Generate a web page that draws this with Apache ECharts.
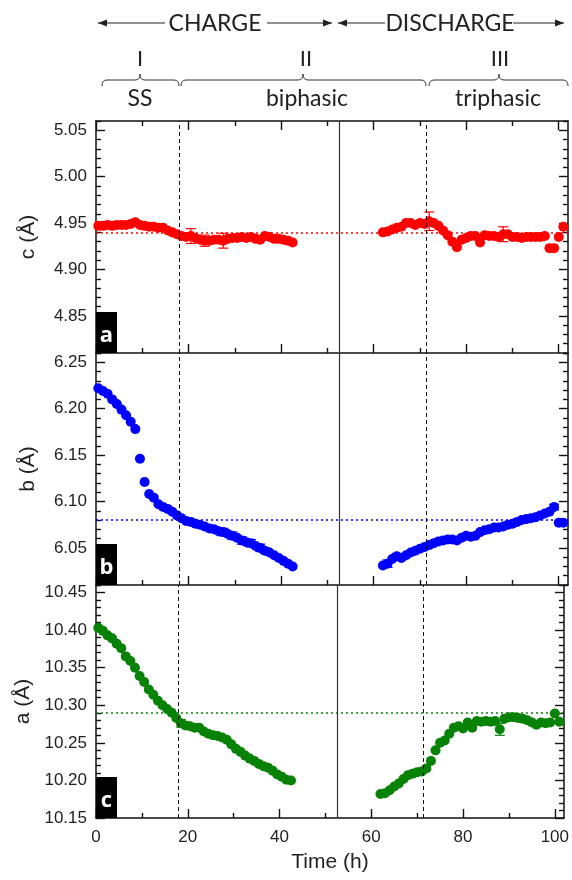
<!DOCTYPE html>
<html>
<head>
<meta charset="utf-8">
<script src="https://cdn.jsdelivr.net/npm/echarts@6/dist/echarts.min.js"></script>
<style>
  html, body { margin: 0; padding: 0; background: #fff; }
  #chart { width: 572px; height: 880px; }
</style>
</head>
<body>
<div id="chart"></div>
<script>
// ---- measurement times (h) ----
const timeCharge = [0.5, 1.5, 2.5, 3.5, 4.5, 5.5, 6.5, 7.5, 8.5, 9.5,
  10.5, 11.5, 12.5, 13.5, 14.5, 15.5, 16.5, 17.5, 18.5, 19.5,
  20.5, 21.5, 22.5, 23.5, 24.5, 25.5, 26.5, 27.5, 28.5, 29.5,
  30.5, 31.5, 32.5, 33.5, 34.5, 35.5, 36.5, 37.5, 38.5, 39.5,
  40.5, 41.5, 42.5];
const timeDischarge = [62, 63, 64, 65, 66, 67, 68, 69, 70, 71,
  72, 73, 74, 75, 76, 77, 78, 79, 80, 81,
  82, 83, 84, 85, 86, 87, 88, 89, 90, 91,
  92, 93, 94, 95, 96, 97, 98, 99, 100, 101];

// ---- lattice parameter c (Å) ----
const cCharge = [4.947, 4.947, 4.948, 4.947, 4.948, 4.948, 4.948, 4.949, 4.951, 4.948,
  4.947, 4.946, 4.946, 4.945, 4.945, 4.942, 4.940, 4.938, 4.936, 4.935,
  4.936, 4.934, 4.932, 4.931, 4.931, 4.932, 4.932, 4.931, 4.933, 4.934,
  4.934, 4.935, 4.934, 4.935, 4.933, 4.932, 4.936, 4.935, 4.933, 4.933,
  4.932, 4.931, 4.929];
const cDischarge = [4.940, 4.941, 4.943, 4.945, 4.946, 4.950, 4.950, 4.948, 4.950, 4.949,
  4.952, 4.950, 4.947, 4.942, 4.937, 4.930, 4.924, 4.932, 4.934, 4.936,
  4.936, 4.929, 4.937, 4.936, 4.936, 4.935, 4.938, 4.938, 4.935, 4.935,
  4.934, 4.935, 4.935, 4.935, 4.935, 4.936, 4.923, 4.923, 4.935, 4.946];
const cErrors = [[20.5, 0.008], [23.5, 0.006], [27.5, 0.008], [72, 0.010], [88, 0.008]];
const cReference = 4.939;
const cTicks = [4.85, 4.90, 4.95, 5.00, 5.05];

// ---- lattice parameter b (Å) ----
const bCharge = [6.222, 6.219, 6.216, 6.210, 6.205, 6.199, 6.193, 6.186, 6.178, 6.146,
  6.121, 6.108, 6.104, 6.097, 6.094, 6.092, 6.089, 6.085, 6.082, 6.079,
  6.078, 6.076, 6.075, 6.073, 6.071, 6.070, 6.068, 6.067, 6.065, 6.063,
  6.061, 6.058, 6.056, 6.055, 6.052, 6.050, 6.047, 6.045, 6.042, 6.039,
  6.036, 6.033, 6.030];
const bDischarge = [6.031, 6.033, 6.038, 6.041, 6.039, 6.042, 6.045, 6.047, 6.049, 6.051,
  6.053, 6.055, 6.057, 6.058, 6.059, 6.059, 6.058, 6.061, 6.063, 6.062,
  6.063, 6.067, 6.069, 6.070, 6.072, 6.072, 6.073, 6.075, 6.076, 6.078,
  6.080, 6.081, 6.082, 6.083, 6.085, 6.087, 6.089, 6.094, 6.077, 6.077];
const bErrors = [[25.5, 0.003], [27.5, 0.004], [29.5, 0.004], [31.5, 0.004], [33.5, 0.004],
  [35.5, 0.004], [36.5, 0.003], [63, 0.004], [65, 0.003], [99, 0.003]];
const bReference = 6.085;
const bTicks = [6.05, 6.10, 6.15, 6.20, 6.25];

// ---- lattice parameter a (Å) ----
const aCharge = [10.403, 10.399, 10.393, 10.389, 10.382, 10.376, 10.365, 10.359, 10.350, 10.339,
  10.331, 10.321, 10.314, 10.306, 10.300, 10.295, 10.290, 10.283, 10.276, 10.273,
  10.272, 10.270, 10.270, 10.265, 10.262, 10.260, 10.259, 10.257, 10.254, 10.248,
  10.242, 10.238, 10.233, 10.229, 10.226, 10.222, 10.219, 10.217, 10.213, 10.208,
  10.205, 10.201, 10.200];
const aDischarge = [10.182, 10.183, 10.187, 10.192, 10.196, 10.202, 10.207, 10.209, 10.211, 10.212,
  10.216, 10.226, 10.240, 10.250, 10.253, 10.262, 10.270, 10.272, 10.269, 10.277,
  10.270, 10.279, 10.278, 10.279, 10.278, 10.279, 10.268, 10.282, 10.284, 10.284,
  10.283, 10.282, 10.280, 10.277, 10.274, 10.277, 10.276, 10.277, 10.289, 10.278];
const aErrors = [[18.5, 0.005], [88, 0.008]];
const aReference = 10.289;
const aTicks = [10.15, 10.20, 10.25, 10.30, 10.35, 10.40, 10.45];

// ---- time axis ----
const timeTicks = [0, 20, 40, 60, 80, 100];
const timeMinorTicks = [10, 30, 50, 70, 90];
const phaseBoundaries = [18, 71.4];   // dashed lines: end of SS region, start of triphasic region
const chargeEnd = 52.6;               // solid line: charge -> discharge

// ---- layout ----
const LEFT = 96, RIGHT = 4;
const FRAME = '#111';
const MARK = 10;
const panels = [
  { name: 'c (Å)', letter: 'a', color: '#ff0000', min: 4.81, max: 5.06, ticks: cTicks,
    charge: cCharge, discharge: cDischarge, ref: cReference, errors: cErrors, top: 121, height: 232 },
  { name: 'b (Å)', letter: 'b', color: '#0000ff', min: 6.01, max: 6.26, ticks: bTicks,
    charge: bCharge, discharge: bDischarge, ref: bReference, errors: bErrors, top: 353, height: 232 },
  { name: 'a (Å)', letter: 'c', color: '#078207', min: 10.15, max: 10.46, ticks: aTicks,
    charge: aCharge, discharge: aDischarge, ref: aReference, errors: aErrors, top: 585, height: 233 }
];

function minorValues(p) {
  const out = [];
  const start = Math.ceil(p.min * 100 - 1e-6);
  const end = Math.floor(p.max * 100 + 1e-6);
  for (let k = start; k <= end; k++) {
    if (k % 5 !== 0) out.push(k / 100);
  }
  return out;
}

function valueAt(p, t) {
  let i = timeCharge.indexOf(t);
  if (i >= 0) return p.charge[i];
  i = timeDischarge.indexOf(t);
  return p.discharge[i];
}

const tickLine = { color: FRAME, width: 1.4 };
const grids = [], xAxes = [], yAxes = [], series = [], graphics = [];

panels.forEach((p, i) => {
  grids.push({ left: LEFT, right: RIGHT, top: p.top, height: p.height, containLabel: false });
  const isLast = i === panels.length - 1;

  // bottom time axis: major + minor ticks
  const xMain = xAxes.length;
  xAxes.push({
    type: 'value', gridIndex: i, position: 'bottom', min: 0, max: 102,
    axisLine: { show: true, onZero: false, lineStyle: { color: FRAME, width: 1.5 } },
    axisTick: { show: true, inside: true, length: 9, customValues: timeTicks, lineStyle: tickLine },
    axisLabel: { show: isLast, customValues: timeTicks, margin: 11, fontSize: 17,
      fontFamily: 'Liberation Sans', color: '#222' },
    splitLine: { show: false },
    name: isLast ? 'Time (h)' : '', nameLocation: 'middle', nameGap: 34,
    nameTextStyle: { fontSize: 21, fontFamily: 'Liberation Sans', color: '#222' }
  });
  xAxes.push({
    type: 'value', gridIndex: i, position: 'bottom', min: 0, max: 102,
    axisLine: { show: false, onZero: false },
    axisTick: { show: true, inside: true, length: 5, customValues: timeMinorTicks, lineStyle: tickLine },
    axisLabel: { show: false }, splitLine: { show: false }
  });
  if (i === 0) {
    xAxes.push({
      type: 'value', gridIndex: i, position: 'top', min: 0, max: 102,
      axisLine: { show: true, onZero: false, lineStyle: { color: FRAME, width: 1.5 } },
      axisTick: { show: true, inside: true, length: 9, customValues: timeTicks, lineStyle: tickLine },
      axisLabel: { show: false }, splitLine: { show: false }
    });
    xAxes.push({
      type: 'value', gridIndex: i, position: 'top', min: 0, max: 102,
      axisLine: { show: false, onZero: false },
      axisTick: { show: true, inside: true, length: 5, customValues: timeMinorTicks, lineStyle: tickLine },
      axisLabel: { show: false }, splitLine: { show: false }
    });
  }

  // left and right value axes: major + minor ticks
  const yMain = yAxes.length;
  const minors = minorValues(p);
  ['left', 'right'].forEach(side => {
    yAxes.push({
      type: 'value', gridIndex: i, position: side, min: p.min, max: p.max,
      axisLine: { show: true, onZero: false, lineStyle: { color: FRAME, width: 1.5 } },
      axisTick: { show: true, inside: true, length: 9, customValues: p.ticks, lineStyle: tickLine },
      axisLabel: { show: side === 'left', customValues: p.ticks, formatter: v => v.toFixed(2),
        margin: 9, fontSize: 17, fontFamily: 'Liberation Sans', color: '#222' },
      splitLine: { show: false },
      name: side === 'left' ? p.name : '', nameLocation: 'middle', nameGap: 57, nameRotate: 90,
      nameTextStyle: { fontSize: 21, fontFamily: 'Liberation Sans', color: '#222' }
    });
    yAxes.push({
      type: 'value', gridIndex: i, position: side, min: p.min, max: p.max,
      axisLine: { show: false, onZero: false },
      axisTick: { show: true, inside: true, length: 5, customValues: minors, lineStyle: tickLine },
      axisLabel: { show: false }, splitLine: { show: false }
    });
  });

  // guide lines: reference level (dotted), phase boundaries (dashed), charge/discharge switch (solid)
  const guides = {
    silent: true, symbol: ['none', 'none'], label: { show: false }, animation: false,
    data: [
      { yAxis: p.ref, lineStyle: { color: p.color, type: [2, 3], width: 1.5 } },
      { xAxis: phaseBoundaries[0], lineStyle: { color: '#111', type: [4, 3], width: 1 } },
      { xAxis: phaseBoundaries[1], lineStyle: { color: '#111', type: [4, 3], width: 1 } },
      { xAxis: chargeEnd, lineStyle: { color: '#333', type: 'solid', width: 1.2 } }
    ]
  };

  series.push({
    type: 'scatter', xAxisIndex: xMain, yAxisIndex: yMain, symbol: 'circle', symbolSize: MARK,
    itemStyle: { color: p.color, opacity: 1 },
    data: timeCharge.map((t, k) => [t, p.charge[k]]),
    markLine: guides, z: 3
  });
  series.push({
    type: 'scatter', xAxisIndex: xMain, yAxisIndex: yMain, symbol: 'circle', symbolSize: MARK,
    itemStyle: { color: p.color, opacity: 1 },
    data: timeDischarge.map((t, k) => [t, p.discharge[k]]), z: 3
  });
  // error bars
  series.push({
    type: 'custom', xAxisIndex: xMain, yAxisIndex: yMain, z: 4, silent: true,
    data: p.errors.map(([t, h]) => [t, valueAt(p, t), h]),
    renderItem: (params, api) => {
      const t = api.value(0), v = api.value(1), h = api.value(2);
      const hi = api.coord([t, v + h]);
      const lo = api.coord([t, v - h]);
      const w = 5;
      const st = { stroke: p.color, lineWidth: 1.2 };
      return {
        type: 'group', children: [
          { type: 'line', shape: { x1: hi[0], y1: hi[1], x2: lo[0], y2: lo[1] }, style: st },
          { type: 'line', shape: { x1: hi[0] - w, y1: hi[1], x2: hi[0] + w, y2: hi[1] }, style: st },
          { type: 'line', shape: { x1: lo[0] - w, y1: lo[1], x2: lo[0] + w, y2: lo[1] }, style: st }
        ]
      };
    }
  });

  // panel letter tag
  const bottom = p.top + p.height;
  graphics.push({ type: 'rect', shape: { x: LEFT, y: bottom - 41, width: 21, height: 41 },
    style: { fill: '#000' }, z: 10 });
  graphics.push({ type: 'text', z: 11, style: { text: p.letter, x: LEFT + 10.5, y: bottom - 17,
    align: 'center', verticalAlign: 'middle', font: 'bold 22px "Open Sans"', fill: '#fff' } });
});

// ---- annotation strip above the plots ----
const INK = '#222';
function arrowLine(x1, x2, tipAtStart) {
  const y = 23;
  const tip = tipAtStart ? x1 : x2;
  const dir = tipAtStart ? 1 : -1;
  graphics.push({ type: 'line', shape: { x1: x1, y1: y, x2: x2, y2: y }, style: { stroke: INK, lineWidth: 1.2 } });
  graphics.push({ type: 'polygon', shape: { points: [[tip, y], [tip + dir * 9, y - 3.5], [tip + dir * 9, y + 3.5]] },
    style: { fill: INK } });
}
function label(text, x, y, size) {
  graphics.push({ type: 'text', style: { text: text, x: x, y: y, align: 'center', verticalAlign: 'middle',
    font: size + 'px Lato', fill: INK } });
}
// curly brace: curled ends, straight runs and a small peak in the middle
function brace(x0, xm, x1) {
  const y = 80, st = { stroke: '#333', lineWidth: 1, fill: null };
  const curve = (ax, ay, cx, cy, bx, by) => graphics.push({ type: 'bezierCurve',
    shape: { x1: ax, y1: ay, cpx1: cx, cpy1: cy, x2: bx, y2: by }, style: st });
  const seg = (ax, bx) => graphics.push({ type: 'line', shape: { x1: ax, y1: y, x2: bx, y2: y }, style: st });
  curve(x0, 86, x0, y, x0 + 5, y);
  seg(x0 + 5, xm - 5);
  curve(xm - 5, y, xm, y, xm, 74);
  curve(xm, 74, xm, y, xm + 5, y);
  seg(xm + 5, x1 - 5);
  curve(x1 - 5, y, x1, y, x1, 86);
}

arrowLine(98, 165, true);
arrowLine(267, 332, false);
arrowLine(338, 385, true);
arrowLine(513, 564, false);
label('CHARGE', 215, 24, 23);
label('DISCHARGE', 450, 24, 23);
label('I', 140, 59, 22);
label('II', 306, 59, 22);
label('III', 500, 59, 22);
brace(102, 140, 179);
brace(181, 303, 426);
brace(429, 499, 568);
label('SS', 140, 99, 23);
label('biphasic', 307, 99, 23);
label('triphasic', 498, 99, 23);

const chart = echarts.init(document.getElementById('chart'), null, { renderer: 'canvas' });
chart.setOption({
  animation: false,
  backgroundColor: '#fff',
  grid: grids,
  xAxis: xAxes,
  yAxis: yAxes,
  series: series,
  graphic: graphics
});
</script>
</body>
</html>
